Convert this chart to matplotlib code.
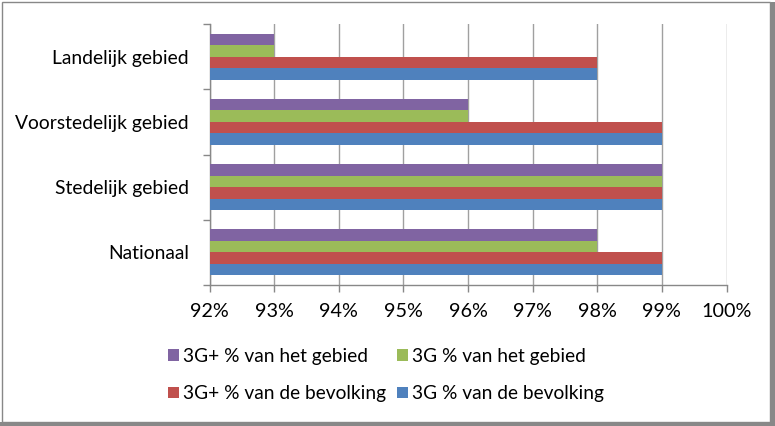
import matplotlib
matplotlib.use("Agg")
import matplotlib.pyplot as plt
from matplotlib.patches import Rectangle
from matplotlib.ticker import FixedLocator, FuncFormatter
import numpy as np

plt.rcParams['font.family'] = ['Lato', 'DejaVu Sans']

# Data (top-to-bottom in the chart)
categories = ["Landelijk gebied", "Voorstedelijk gebied", "Stedelijk gebied", "Nationaal"]
series_names = ["3G+ % van het gebied", "3G % van het gebied",
                "3G+ % van de bevolking", "3G % van de bevolking"]
g3plus_gebied = [93, 96, 99, 98]
g3_gebied = [93, 96, 99, 98]
g3plus_bevolking = [98, 99, 99, 99]
g3_bevolking = [98, 99, 99, 99]
x_ticks = [92, 93, 94, 95, 96, 97, 98, 99, 100]

colors = ["#8064A2", "#9BBB59", "#C0504D", "#4F81BD"]
series = [g3plus_gebied, g3_gebied, g3plus_bevolking, g3_bevolking]

W, H = 775, 426
fig = plt.figure(figsize=(W / 100, H / 100), dpi=100)
ax = fig.add_axes([209.5 / W, 1 - 285 / H, (726.5 - 209.5) / W, (285 - 24) / H])

n = len(categories)
ypos = np.arange(n)[::-1]  # top category at highest y
h = 0.177
offsets = [1.5 * h, 0.5 * h, -0.5 * h, -1.5 * h]
xmin = x_ticks[0]
bars = []
for vals, col, off, name in zip(series, colors, offsets, series_names):
    b = ax.barh(ypos + off, np.array(vals) - xmin, left=xmin, height=h,
                color=col, edgecolor='none', label=name, zorder=3)
    bars.append(b)

ax.set_xlim(x_ticks[0], x_ticks[-1])
ax.set_ylim(-0.5, n - 0.5)
ax.xaxis.set_major_locator(FixedLocator(x_ticks))
ax.xaxis.set_major_formatter(FuncFormatter(lambda v, p: f"{int(round(v))}%"))
ax.grid(axis='x', color='#A0A0A0', linewidth=1.0, zorder=0)
ax.set_axisbelow(True)

# y ticks: marks at category boundaries, labels at centres
ax.yaxis.set_major_locator(FixedLocator(np.arange(-0.5, n, 1.0)))
ax.yaxis.set_major_formatter(FuncFormatter(lambda v, p: ""))
ax.yaxis.set_minor_locator(FixedLocator(ypos))
ax.set_yticklabels(categories, minor=True)
ax.tick_params(axis='y', which='major', length=5, width=1, color='#888888', direction='out')
ax.tick_params(axis='y', which='minor', length=0, pad=15, labelsize=13.9, labelcolor='#000000')
ax.tick_params(axis='x', which='major', length=5, width=1, color='#888888', direction='out',
               pad=8, labelsize=14.2)

for s in ['top', 'right']:
    ax.spines[s].set_visible(False)
for s in ['left', 'bottom']:
    ax.spines[s].set_color('#888888')
    ax.spines[s].set_linewidth(1.0)

# Legend: row-major order purple, green / red, blue -> column-major handles
handles = [bars[0], bars[2], bars[1], bars[3]]
labels = [series_names[0], series_names[2], series_names[1], series_names[3]]
leg = fig.legend(handles, labels, ncol=2, loc='upper left',
                 bbox_to_anchor=(168 / W, 1 - 348 / H), frameon=False,
                 fontsize=13.8, handlelength=0.57, handleheight=0.57,
                 handletextpad=0.21, columnspacing=0.57, labelspacing=1.06,
                 borderaxespad=0, borderpad=0)

# Outer frame with shadow right/bottom
fig.add_artist(Rectangle((1.5 / W, 4 / H), (770 - 1.5) / W, (424.5 - 4) / H,
                         transform=fig.transFigure, fill=False,
                         edgecolor='#888888', linewidth=1.0))
fig.add_artist(Rectangle((771 / W, 0), 4 / W, 1 - 2 / H, transform=fig.transFigure,
                         facecolor='#888888', edgecolor='none'))
fig.add_artist(Rectangle((0, 0), 1, 4 / H, transform=fig.transFigure,
                         facecolor='#888888', edgecolor='none'))

fig.savefig("out.png", dpi=100, facecolor='white')
